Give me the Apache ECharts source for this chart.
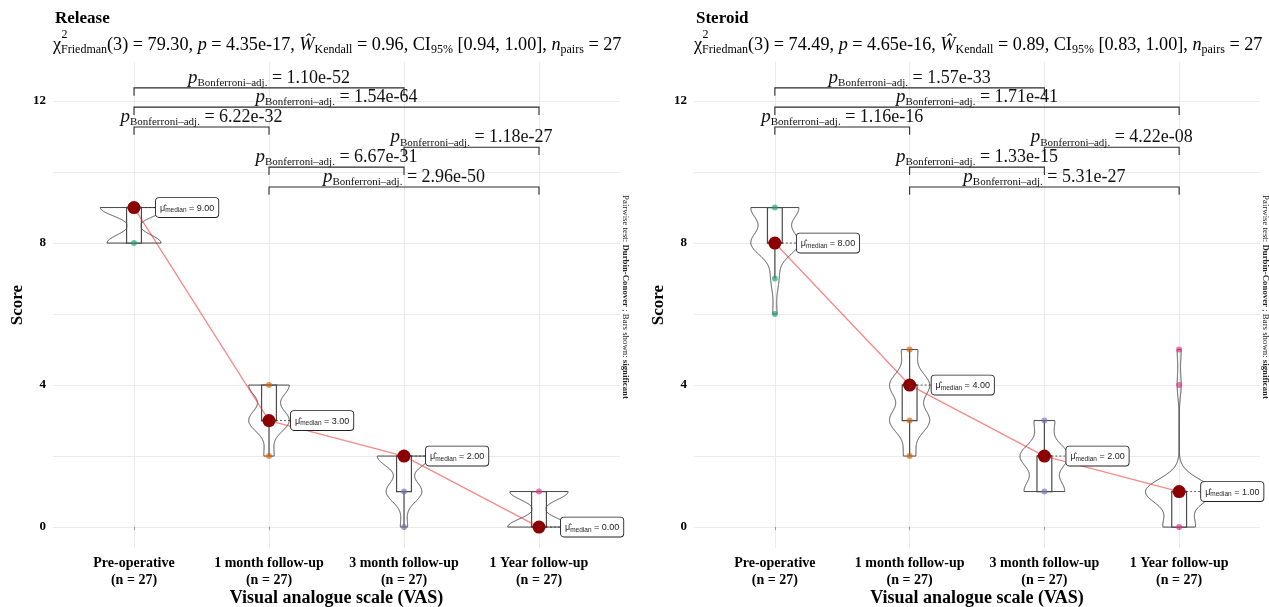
<!DOCTYPE html>
<html><head><meta charset="utf-8">
<script src="https://cdn.jsdelivr.net/npm/echarts@6/dist/echarts.min.js"></script>
<style>html,body{margin:0;padding:0;background:#fff}#c{width:1269px;height:607px}</style>
</head><body><div id="c"></div>
<script>
// ---------------- DATA ----------------
const categories = ['Pre-operative', '1 month follow-up', '3 month follow-up', '1 Year follow-up'];
const groupSizes = [27, 27, 27, 27];
const panelTitles = ['Release', 'Steroid'];
// number of patients at each VAS score (array index = score 0..9)
const releasePre = [0, 0, 0, 0, 0, 0, 0, 0, 12, 15];
const release1m  = [0, 0, 3, 12, 12, 0, 0, 0, 0, 0];
const release3m  = [2, 10, 15, 0, 0, 0, 0, 0, 0, 0];
const release1y  = [14, 13, 0, 0, 0, 0, 0, 0, 0, 0];
const steroidPre = [0, 0, 0, 0, 0, 0, 1, 2, 12, 12];
const steroid1m  = [0, 0, 3, 10, 10, 4, 0, 0, 0, 0];
const steroid3m  = [0, 10, 12, 5, 0, 0, 0, 0, 0, 0];
const steroid1y  = [8, 17, 0, 0, 1, 1, 0, 0, 0, 0];
// Friedman stats: chi2, p, W, CI low, CI high, n pairs
const releaseStats = ['79.30', '4.35e-17', '0.96', '0.94', '1.00', '27'];
const steroidStats = ['74.49', '4.65e-16', '0.89', '0.83', '1.00', '27'];
// pairwise comparisons (group indices) and Bonferroni adjusted p-values
const comparisonPairs = [[0, 2], [0, 3], [0, 1], [2, 3], [1, 2], [1, 3]];
const releasePadj = ['1.10e-52', '1.54e-64', '6.22e-32', '1.18e-27', '6.67e-31', '2.96e-50'];
const steroidPadj = ['1.57e-33', '1.71e-41', '1.16e-16', '4.22e-08', '1.33e-15', '5.31e-27'];
const yTickLabels = [0, 4, 8, 12];
const yGridValues = [0, 2, 4, 6, 8, 10, 12];

// ---------------- LAYOUT / STYLE ----------------
const SERIF = '"Liberation Serif", "DejaVu Serif", serif';
const SANS = '"Liberation Sans", Arial, sans-serif';
const palette = ['#1b9e77', '#d95f02', '#7570b3', '#e7298a'];
const L = {
  grids: [{ left: 53, right: 649 }, { left: 694, right: 9 }],
  top: 62, bottom: 59,
  yMin: -0.59, yMax: 13.1, xMin: -0.6, xMax: 3.6,
  bracketLevels: [12.37, 11.83, 11.27, 10.70, 10.14, 9.58],
  tip: 0.22, violinHalf: 0.25, boxHalf: 0.055
};

// ---------------- STATS ----------------
function expand(counts) { const v = []; counts.forEach((c, s) => { for (let i = 0; i < c; i++) v.push(s); }); return v; }
function quantile(s, p) { const h = (s.length - 1) * p, lo = Math.floor(h), hi = Math.ceil(h); return s[lo] + (h - lo) * (s[hi] - s[lo]); }
function sd(v) { const m = v.reduce((a, b) => a + b, 0) / v.length; return Math.sqrt(v.reduce((a, b) => a + (b - m) * (b - m), 0) / (v.length - 1)); }
function bwNrd0(v) { const hi = sd(v); const iqr = quantile(v, 0.75) - quantile(v, 0.25); let lo = Math.min(hi, iqr / 1.34); if (!lo) lo = hi || Math.abs(v[0]) || 1; return 0.9 * lo * Math.pow(v.length, -0.2); }
function groupStats(counts) {
  const v = expand(counts);
  const q1 = quantile(v, 0.25), med = quantile(v, 0.5), q3 = quantile(v, 0.75), iqr = q3 - q1;
  const lowW = Math.min(...v.filter(x => x >= q1 - 1.5 * iqr));
  const highW = Math.max(...v.filter(x => x <= q3 + 1.5 * iqr));
  const bw = bwNrd0(v), a = v[0], b = v[v.length - 1], dens = [];
  for (let i = 0; i < 512; i++) {
    const y = a + (b - a) * i / 511; let d = 0;
    for (const x of v) { const z = (y - x) / bw; d += Math.exp(-0.5 * z * z); }
    dens.push([y, d / (v.length * bw * Math.sqrt(2 * Math.PI))]);
  }
  const levels = []; counts.forEach((c, s) => { if (c > 0) levels.push(s); });
  return { q1, med, q3, lowW, highW, dens, levels };
}
const panels = [
  { title: panelTitles[0], groups: [releasePre, release1m, release3m, release1y].map(groupStats), stats: releaseStats, padj: releasePadj },
  { title: panelTitles[1], groups: [steroidPre, steroid1m, steroid3m, steroid1y].map(groupStats), stats: steroidStats, padj: steroidPadj }
];
panels.forEach(p => { p.maxD = Math.max(...p.groups.map(g => Math.max(...g.dens.map(d => d[1])))); });

// ---------------- OPTION ----------------
const grid = [], xAxis = [], yAxis = [], series = [], graphic = [];
const measure = (txt, font) => { const c = document.createElement('canvas').getContext('2d'); c.font = font; return c.measureText(txt).width; };

panels.forEach((P, pi) => {
  grid.push({ left: L.grids[pi].left, right: L.grids[pi].right, top: L.top, bottom: L.bottom, containLabel: false, outerBoundsMode: 'none' });
  xAxis.push({
    type: 'value', gridIndex: pi, min: L.xMin, max: L.xMax,
    name: 'Visual analogue scale (VAS)', nameLocation: 'middle', nameGap: 41, nameMoveOverlap: false,
    nameTextStyle: { fontFamily: SERIF, fontWeight: 'bold', fontSize: 18, color: '#000' },
    axisLine: { show: false },
    axisTick: { show: true, length: 3, customValues: [0, 1, 2, 3], lineStyle: { color: '#999' } },
    axisLabel: {
      customValues: [0, 1, 2, 3], margin: 7, fontFamily: SERIF, fontWeight: 'bold', fontSize: 14, color: '#000', lineHeight: 17,
      formatter: v => categories[v] + '\n(n = ' + groupSizes[v] + ')'
    },
    splitLine: { show: true, lineStyle: { color: '#ebebeb', width: 1 } }
  });
  yAxis.push({
    type: 'value', gridIndex: pi, min: L.yMin, max: L.yMax,
    name: 'Score', nameLocation: 'middle', nameGap: 27, nameMoveOverlap: false,
    nameTextStyle: { fontFamily: SERIF, fontWeight: 'bold', fontSize: 17, color: '#000' },
    axisLine: { show: false },
    axisTick: { show: false, customValues: yGridValues },
    axisLabel: { customValues: yTickLabels, margin: 7, fontFamily: SERIF, fontWeight: 'bold', fontSize: 13, color: '#000' },
    splitLine: { show: true, lineStyle: { color: '#ebebeb', width: 1 } }
  });

  // violins + boxes
  series.push({
    type: 'custom', xAxisIndex: pi, yAxisIndex: pi, z: 2, silent: true,
    data: P.groups.map((g, i) => [i, g.med]),
    renderItem: (params, api) => {
      const i = params.dataIndex, g = P.groups[i], pts = [];
      for (const [y, d] of g.dens) pts.push(api.coord([i + d / P.maxD * L.violinHalf, y]));
      for (let k = g.dens.length - 1; k >= 0; k--) { const [y, d] = g.dens[k]; pts.push(api.coord([i - d / P.maxD * L.violinHalf, y])); }
      const tl = api.coord([i - L.boxHalf, g.q3]), br = api.coord([i + L.boxHalf, g.q1]);
      const c = api.coord([i, g.med]);
      const wl = api.coord([i, g.lowW]), wh = api.coord([i, g.highW]);
      return { type: 'group', children: [
        { type: 'polygon', shape: { points: pts }, style: { fill: 'rgba(255,255,255,0)', stroke: '#333', lineWidth: 0.9 } },
        { type: 'line', shape: { x1: c[0], y1: tl[1], x2: wh[0], y2: wh[1] }, style: { stroke: '#4a4a4a', lineWidth: 1.2 } },
        { type: 'line', shape: { x1: c[0], y1: br[1], x2: wl[0], y2: wl[1] }, style: { stroke: '#4a4a4a', lineWidth: 1.2 } },
        { type: 'rect', shape: { x: tl[0], y: tl[1], width: br[0] - tl[0], height: br[1] - tl[1] }, style: { fill: 'rgba(255,255,255,0.6)', stroke: '#4a4a4a', lineWidth: 1.2 } },
        { type: 'line', shape: { x1: tl[0], y1: c[1], x2: br[0], y2: c[1] }, style: { stroke: '#4a4a4a', lineWidth: 2 } }
      ] };
    }
  });
  // raw points
  const pts = [];
  P.groups.forEach((g, i) => g.levels.forEach(s => pts.push({ value: [i, s], itemStyle: { color: palette[i] } })));
  series.push({ type: 'scatter', xAxisIndex: pi, yAxisIndex: pi, z: 3, silent: true, symbolSize: 6, itemStyle: { opacity: 0.65 }, data: pts });
  // median path + points
  series.push({
    type: 'line', xAxisIndex: pi, yAxisIndex: pi, z: 4, silent: true,
    data: P.groups.map((g, i) => [i, g.med]),
    symbol: 'circle', symbolSize: 13, itemStyle: { color: '#8b0000' },
    lineStyle: { color: 'rgba(240,40,40,0.55)', width: 1.3 }
  });
  // median labels
  series.push({
    type: 'custom', xAxisIndex: pi, yAxisIndex: pi, z: 6, silent: true,
    data: P.groups.map((g, i) => [i, g.med]),
    renderItem: (params, api) => {
      const i = params.dataIndex, g = P.groups[i], c = api.coord([i, g.med]);
      return { type: 'group', children: [
        { type: 'line', shape: { x1: c[0] + 7, y1: c[1], x2: c[0] + 22, y2: c[1] }, style: { stroke: '#333', lineWidth: 0.8, lineDash: [2, 2] } },
        { type: 'text', x: c[0] + 22, y: c[1], style: {
          text: '{m|μ̂}{s|median}{e| = ' + g.med.toFixed(2) + '}',
          align: 'left', verticalAlign: 'middle',
          backgroundColor: '#fff', borderColor: '#222', borderWidth: 0.9, borderRadius: 3, padding: [4, 4, 3, 4],
          rich: {
            m: { fontFamily: SANS, fontSize: 9, fill: '#222', lineHeight: 12 },
            s: { fontFamily: SANS, fontSize: 6.5, fill: '#222', verticalAlign: 'bottom', lineHeight: 9 },
            e: { fontFamily: SANS, fontSize: 9, fill: '#222', lineHeight: 12 }
          }
        } }
      ] };
    }
  });
  // significance brackets
  series.push({
    type: 'custom', xAxisIndex: pi, yAxisIndex: pi, z: 5, silent: true,
    data: comparisonPairs.map((pr, k) => [pr[0], L.bracketLevels[k]]),
    renderItem: (params, api) => {
      const k = params.dataIndex, pr = comparisonPairs[k], lv = L.bracketLevels[k];
      const a = api.coord([pr[0], lv]), b = api.coord([pr[1], lv]), t = api.coord([pr[0], lv - L.tip]);
      return { type: 'group', children: [
        { type: 'polyline', shape: { points: [[a[0], t[1]], a, b, [b[0], t[1]]] }, style: { fill: 'none', stroke: '#2a2a2a', lineWidth: 1.1 } },
        { type: 'text', x: (a[0] + b[0]) / 2, y: a[1] + 1, style: {
          text: '{p|p}{s|Bonferroni–adj.}{e| = ' + P.padj[k] + '}',
          align: 'center', verticalAlign: 'bottom',
          rich: {
            p: { fontFamily: SERIF, fontStyle: 'italic', fontSize: 19, fill: '#111', lineHeight: 22 },
            s: { fontFamily: SERIF, fontSize: 11, fill: '#111', verticalAlign: 'bottom', lineHeight: 15 },
            e: { fontFamily: SERIF, fontSize: 18, fill: '#111', lineHeight: 22 }
          }
        } }
      ] };
    }
  });

  // titles
  const left = L.grids[pi].left;
  graphic.push({ type: 'text', x: left + 2, y: 19, style: { text: P.title, font: 'bold 17px ' + SERIF, fill: '#000', verticalAlign: 'middle' } });
  const s = P.stats;
  graphic.push({ type: 'text', x: left, y: 45, style: {
    text: '{chi|χ}{sub|Friedman}{n|(3) = ' + s[0] + ', }{it|p}{n| = ' + s[1] + ', }{it|Ŵ}{sub|Kendall}{n| = ' + s[2] + ', CI}{sub|95%}{n| [' + s[3] + ', ' + s[4] + '], }{it|n}{sub|pairs}{n| = ' + s[5] + '}',
    verticalAlign: 'middle', align: 'left',
    rich: {
      chi: { fontFamily: SERIF, fontSize: 18.2, fill: '#000', lineHeight: 22 },
      n: { fontFamily: SERIF, fontSize: 18.2, fill: '#000', lineHeight: 22 },
      it: { fontFamily: SERIF, fontStyle: 'italic', fontSize: 18.2, fill: '#000', lineHeight: 22 },
      sub: { fontFamily: SERIF, fontSize: 12, fill: '#000', verticalAlign: 'bottom', lineHeight: 13 }
    }
  } });
  graphic.push({ type: 'text', x: left + measure('χ', '18.2px ' + SERIF) + 0.5, y: 35, style: { text: '2', font: '12px ' + SERIF, fill: '#000', verticalAlign: 'middle' } });
  // caption
  const capX = pi === 0 ? 625 : 1265;
  graphic.push({ type: 'text', x: capX, y: 297, rotation: -Math.PI / 2, style: {
    text: '{n|Pairwise test: }{b|Durbin-Conover}{n| ; Bars shown: }{b|significant}',
    align: 'center', verticalAlign: 'middle',
    rich: { n: { fontFamily: SERIF, fontSize: 8.8, fill: '#222' }, b: { fontFamily: SERIF, fontSize: 8.8, fontWeight: 'bold', fill: '#222' } }
  } });
});

const chart = echarts.init(document.getElementById('c'), null, { renderer: 'canvas' });
chart.setOption({ animation: false, backgroundColor: '#fff', grid, xAxis, yAxis, series, graphic });
</script></body></html>
